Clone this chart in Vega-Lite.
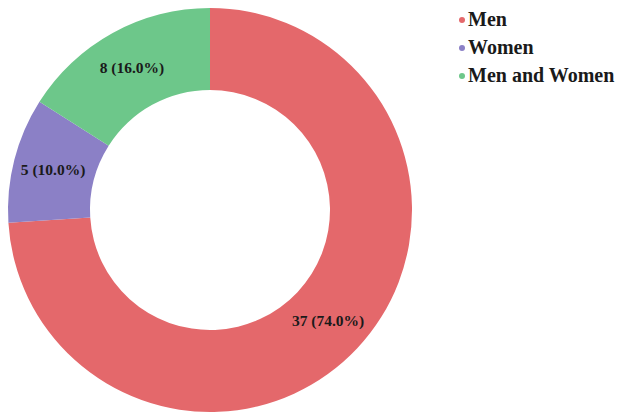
{
  "$schema": "https://vega.github.io/schema/vega-lite/v6.json",
  "width": 420,
  "height": 420,
  "autosize": "none",
  "padding": {"left": 0, "top": 0, "right": 198, "bottom": 0},
  "background": "white",
  "data": {"values": [
    {"group": "Men", "count": 37, "label": "37 (74.0%)", "order": 1},
    {"group": "Women", "count": 5, "label": "5 (10.0%)", "order": 2},
    {"group": "Men and Women", "count": 8, "label": "8 (16.0%)", "order": 3}
  ]},
  "encoding": {
    "theta": {"field": "count", "type": "quantitative", "stack": true},
    "order": {"field": "order", "type": "quantitative"},
    "color": {
      "field": "group", "type": "nominal",
      "scale": {"domain": ["Men", "Women", "Men and Women"], "range": ["#e4686b", "#8b80c6", "#6dc78a"]},
      "legend": {
        "title": null, "orient": "none", "legendX": 452, "legendY": 10, "padding": 0,
        "symbolType": "circle", "symbolSize": 36, "symbolStrokeWidth": 0,
        "labelFont": "Liberation Serif", "labelFontSize": 20, "labelFontWeight": "bold",
        "labelColor": "#1a1a1a", "rowPadding": 8, "symbolOffset": 0, "labelOffset": -4,
        "labelLimit": 300
      }
    }
  },
  "layer": [
    {"mark": {"type": "arc", "outerRadius": 202, "innerRadius": 120}},
    {
      "mark": {"type": "text", "radius": 162, "font": "Liberation Serif", "fontSize": 15.5, "fontWeight": "bold", "color": "#1a1a1a"},
      "encoding": {"text": {"field": "label"}, "color": {"value": "#1a1a1a"}}
    }
  ],
  "config": {"view": {"stroke": null}, "legend": {"labelFont": "Liberation Serif"}}
}
